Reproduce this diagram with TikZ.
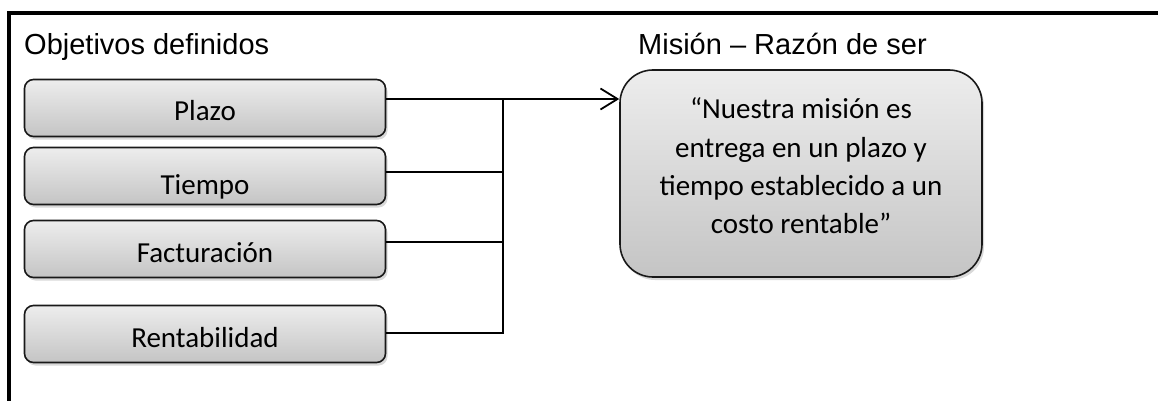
\documentclass[tikz,border=0pt]{standalone}
\usepackage{fontspec}
\setmainfont{Liberation Sans}
\newfontfamily\calib{Carlito}
\usetikzlibrary{arrows.meta,shadows,calc}
\begin{document}
\begin{tikzpicture}[x=1pt,y=-1pt,
  boxbase/.style={draw=black!90, line width=1.6pt, inner sep=0pt,
    top color=black!7, bottom color=black!23,
    drop shadow={shadow xshift=2pt,shadow yshift=-3pt,opacity=0.3}},
  objbox/.style={boxbase, rounded corners=9pt, minimum width=361pt, minimum height=57pt,
    font=\calib\fontsize{29}{35}\selectfont, text height=29pt, text depth=3pt},
  misbox/.style={boxbase, rounded corners=33pt, minimum width=362pt, minimum height=207pt},
  mistext/.style={align=center, inner sep=0pt, font=\calib\fontsize{29}{38.3}\selectfont},
  title/.style={anchor=base west, inner sep=0pt, font=\fontsize{29}{35}\selectfont},
  conn/.style={line width=1.8pt, draw=black}]
\useasboundingbox (0,0) rectangle (1158,401);
\draw[line width=4pt] (9,401) -- (9,13) -- (1158,13);
\node[title] (t1) at (24,55) {Objetivos definidos};
\node[title] (t2) at (638,55) {Misión – Razón de ser};
\node[objbox] (plazo) at (205,108) {Plazo};
\node[objbox, text height=39pt] (tiempo) at (205,176) {Tiempo};
\node[objbox] (fact) at (205,249) {Facturación};
\node[objbox] (rent) at (205,334) {Rentabilidad};
\node[misbox] (mision) at (801,173.5) {};
\node[mistext] (mtxt) at ($(mision.center)+(0,-7.5)$) {“Nuestra misión es\\entrega en un plazo y\\tiempo establecido a un\\costo rentable”};
\coordinate (j) at (503,99);
\coordinate (jt) at (503,172);
\coordinate (jf) at (503,242);
\coordinate (jr) at (503,333);
\draw[conn, -{Straight Barb[length=17pt,width=21pt]}] (plazo.east |- j) -- (mision.west |- j);
\draw[conn] (j) -- (jr) -- (rent.east |- jr);
\draw[conn] (tiempo.east |- jt) -- (jt);
\draw[conn] (fact.east |- jf) -- (jf);
\end{tikzpicture}
\end{document}
